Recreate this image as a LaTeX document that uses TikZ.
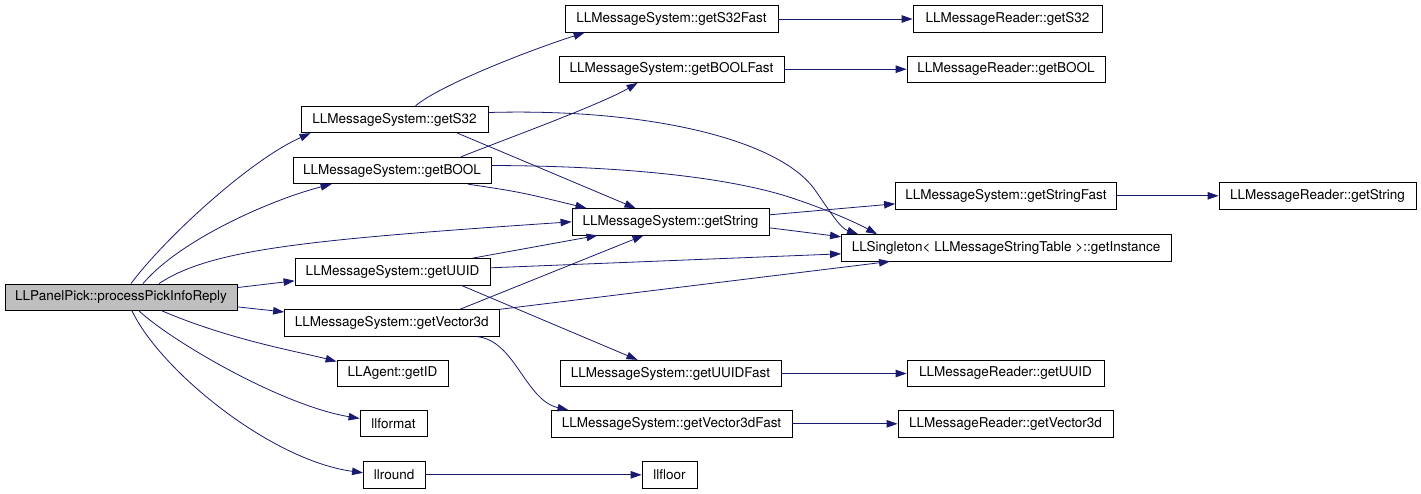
\documentclass[tikz,border=0pt]{standalone}
\usepackage{fontspec}
\setmainfont{TeX Gyre Heros}
\usetikzlibrary{arrows.meta,calc}
\definecolor{callblue}{HTML}{191970}
\definecolor{rootgray}{HTML}{BFBFBF}
\tikzset{
        fn/.style={draw=black, line width=0.8pt, minimum height=26.5pt, inner sep=0pt,
                font=\fontsize{13.5}{16}\selectfont},
        call/.style={draw=callblue, line width=0.8pt, -{Triangle[length=11pt,width=7.5pt]}},
}

\begin{document}
\begin{tikzpicture}[x=1pt,y=-1pt]
        \useasboundingbox (0,0) rectangle (1421,493);

        % callers and callees
        \node[fn, fill=rootgray, minimum width=232pt] (main) at (121,297.2) {LLPanelPick::processPickInfoReply};
        \node[fn, minimum width=187pt] (getS32) at (394.5,119.5) {LLMessageSystem::getS32};
        \node[fn, minimum width=198pt] (getBOOL) at (392,170.5) {LLMessageSystem::getBOOL};
        \node[fn, minimum width=195pt] (getUUID) at (392.5,271.8) {LLMessageSystem::getUUID};
        \node[fn, minimum width=214.5pt] (getVector3d) at (391.8,323) {LLMessageSystem::getVector3d};
        \node[fn, minimum width=111pt] (getID) at (392.5,373.5) {LLAgent::getID};
        \node[fn, minimum width=67pt] (llformat) at (393.5,423.5) {llformat};
        \node[fn, minimum width=61.5pt] (llround) at (394.2,474.8) {llround};

        \node[fn, minimum width=213pt] (getS32Fast) at (671.5,19) {LLMessageSystem::getS32Fast};
        \node[fn, minimum width=225pt] (getBOOLFast) at (671.5,69.2) {LLMessageSystem::getBOOLFast};
        \node[fn, minimum width=197pt] (getString) at (670.5,221.8) {LLMessageSystem::getString};
        \node[fn, minimum width=221pt] (getUUIDFast) at (670.5,373.5) {LLMessageSystem::getUUIDFast};
        \node[fn, minimum width=241pt] (getVector3dFast) at (671.5,423.8) {LLMessageSystem::getVector3dFast};
        \node[fn, minimum width=55pt] (llfloor) at (669.5,474.8) {llfloor};

        \node[fn, minimum width=189pt] (readS32) at (1007.5,19) {LLMessageReader::getS32};
        \node[fn, minimum width=198pt] (readBOOL) at (1006,69.2) {LLMessageReader::getBOOL};
        \node[fn, minimum width=221pt] (getStringFast) at (1006,195.8) {LLMessageSystem::getStringFast};
        \node[fn, minimum width=329.5pt] (getInstance) at (1006.2,247.8) {LLSingleton< LLMessageStringTable >::getInstance};
        \node[fn, minimum width=197pt] (readUUID) at (1005.5,373.5) {LLMessageReader::getUUID};
        \node[fn, minimum width=215pt] (readVector3d) at (1005.5,423.8) {LLMessageReader::getVector3d};
        \node[fn, minimum width=197pt] (readString) at (1317.5,195.8) {LLMessageReader::getString};

        % calls from the root
        \draw[call] ($(main.north)+(10,0)$) .. controls (165,238) and (250,160) .. ($(getS32.south west)+(10,0)$);
        \draw[call] ($(main.north)+(22,0)$) .. controls (180,240) and (270,200) .. ($(getBOOL.south west)+(39,0)$);
        \draw[call] ($(main.north)+(38,0)$) .. controls (210,250) and (300,240) .. (getString.west);
        \draw[call] ($(main.north east)+(0,4)$) -- ($(getUUID.west)+(0,9)$);
        \draw[call] ($(main.south east)+(0,-4)$) -- ($(getVector3d.west)+(0,-11)$);
        \draw[call] ($(main.south)+(41,0)$) .. controls (230,340) and (300,352) .. ($(getID.west)+(0,-12)$);
        \draw[call] ($(main.south)+(18,0)$) .. controls (170,340) and (280,405) .. ($(llformat.west)+(0,-5)$);
        \draw[call] ($(main.south)+(11,0)$) .. controls (160,370) and (270,460) .. ($(llround.west)+(0,-2)$);

        % second level
        \draw[call] ($(getS32.north)+(21,0)$) .. controls (440,85) and (530,50) .. ($(getS32Fast.south west)+(20,0)$);
        \draw[call] ($(getS32.south)+(63,0)$) -- ($(getString.north)+(-35,0)$);
        \draw[call] ($(getS32.east)+(0,-7)$) .. controls (650,108) and (780,140) .. (815,190)
                .. controls (829,210) and (840,228) .. ($(getInstance.north west)+(17,0)$);
        \draw[call] ($(getBOOL.north)+(69,0)$) .. controls (495,143) and (600,105) .. ($(getBOOLFast.south west)+(79,0)$);
        \draw[call] ($(getBOOL.south)+(76,0)$) .. controls (520,192) .. ($(getString.north)+(-84,0)$);
        \draw[call] ($(getBOOL.east)+(0,-5)$) .. controls (640,166) and (740,180) .. (795,199)
                .. controls (825,209) and (855,222) .. ($(getInstance.north west)+(36,0)$);
        \draw[call] ($(getUUID.north)+(80,0)$) -- ($(getString.south)+(-73,0)$);
        \draw[call] ($(getUUID.east)+(0,-4)$) -- ($(getInstance.west)+(0,6)$);
        \draw[call] ($(getUUID.south)+(69,0)$) -- ($(getUUIDFast.north)+(-33,0)$);
        \draw[call] ($(getVector3d.north)+(68,0)$) -- ($(getString.south)+(-27,0)$);
        \draw[call] (getVector3d.north east) -- ($(getInstance.south west)+(49,0)$);
        \draw[call] ($(getVector3d.south)+(85,0)$) .. controls (515,340) and (525,400) .. ($(getVector3dFast.north)+(-103,0)$);
        \draw[call] ($(getString.east)+(0,-7)$) -- ($(getStringFast.west)+(0,8)$);
        \draw[call] ($(getString.east)+(0,6)$) -- ($(getInstance.west)+(0,-11)$);
        \draw[call] (llround) -- (llfloor);

        % readers
        \draw[call] (getS32Fast) -- (readS32);
        \draw[call] (getBOOLFast) -- (readBOOL);
        \draw[call] (getStringFast) -- (readString);
        \draw[call] (getUUIDFast) -- (readUUID);
        \draw[call] (getVector3dFast) -- (readVector3d);
\end{tikzpicture}
\end{document}
